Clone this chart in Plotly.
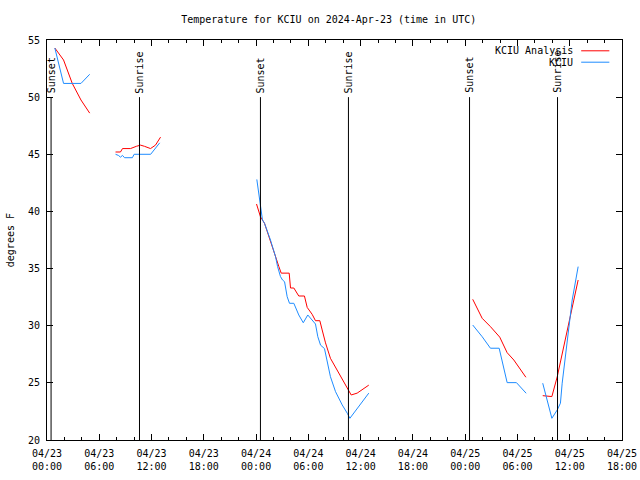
import plotly.graph_objects as go

# KCIU Analysis (red) -- None marks a gap between segments
analysis_times = [
    "2024-04-23 00:54", "2024-04-23 01:54", "2024-04-23 02:54", "2024-04-23 03:54", "2024-04-23 04:54", None,
    "2024-04-23 07:52", "2024-04-23 08:26", "2024-04-23 08:40", "2024-04-23 09:35", "2024-04-23 10:16",
    "2024-04-23 10:44", "2024-04-23 11:11", "2024-04-23 11:53", "2024-04-23 12:27", "2024-04-23 13:02", None,
    "2024-04-24 00:03", "2024-04-24 00:30", "2024-04-24 00:58", "2024-04-24 01:39", "2024-04-24 02:14",
    "2024-04-24 02:37", "2024-04-24 02:53", "2024-04-24 03:48", "2024-04-24 03:57", "2024-04-24 04:20",
    "2024-04-24 04:54", "2024-04-24 05:33", "2024-04-24 05:52", "2024-04-24 06:26", "2024-04-24 06:49",
    "2024-04-24 07:19", "2024-04-24 07:35", "2024-04-24 07:58", "2024-04-24 08:32", "2024-04-24 09:18",
    "2024-04-24 10:04", "2024-04-24 10:38", "2024-04-24 10:55", "2024-04-24 11:36", "2024-04-24 11:59",
    "2024-04-24 12:56", None,
    "2024-04-25 00:52", "2024-04-25 01:57", "2024-04-25 02:54", "2024-04-25 03:58", "2024-04-25 04:49",
    "2024-04-25 05:35", "2024-04-25 06:58", None,
    "2024-04-25 08:54", "2024-04-25 09:57", "2024-04-25 10:34", "2024-04-25 11:08", "2024-04-25 11:42",
    "2024-04-25 12:05", "2024-04-25 12:28", "2024-04-25 12:58",
]
analysis_temps = [
    54.3, 53.25, 51.2, 49.75, 48.6, None,
    45.2, 45.2, 45.5, 45.5, 45.7, 45.8, 45.7, 45.5, 45.8, 46.5, None,
    40.65, 39.54, 38.96, 37.35, 35.9, 35.17, 34.6, 34.6, 33.3, 33.3,
    32.6, 32.6, 31.6, 31.0, 30.44, 30.44, 29.63, 28.5, 27.15, 26.13,
    25.1, 24.23, 23.94, 24.1, 24.29, 24.8, None,
    32.31, 30.65, 29.92, 29.0, 27.64, 27.0, 25.49, None,
    23.88, 23.8, 25.54, 27.59, 29.34, 30.8, 32.25, 34.0,
]

# KCIU observations (blue)
obs_times = [
    "2024-04-23 00:54", "2024-04-23 01:54", "2024-04-23 02:54", "2024-04-23 03:54", "2024-04-23 04:54", None,
    "2024-04-23 07:52", "2024-04-23 08:12", "2024-04-23 08:26", "2024-04-23 08:40", "2024-04-23 08:54",
    "2024-04-23 09:48", "2024-04-23 10:00", "2024-04-23 11:54", "2024-04-23 12:56", None,
    "2024-04-24 00:05", "2024-04-24 00:30", "2024-04-24 00:44", "2024-04-24 00:58", "2024-04-24 01:39",
    "2024-04-24 02:14", "2024-04-24 02:28", "2024-04-24 02:48", "2024-04-24 03:02", "2024-04-24 03:16",
    "2024-04-24 03:34", "2024-04-24 03:50", "2024-04-24 04:20", "2024-04-24 04:54", "2024-04-24 05:05",
    "2024-04-24 05:25", "2024-04-24 05:56", "2024-04-24 06:49", "2024-04-24 07:05", "2024-04-24 07:24",
    "2024-04-24 07:51", "2024-04-24 08:05", "2024-04-24 08:32", "2024-04-24 09:07", "2024-04-24 09:53",
    "2024-04-24 10:28", "2024-04-24 10:46", "2024-04-24 12:56", None,
    "2024-04-25 00:52", "2024-04-25 01:57", "2024-04-25 02:54", "2024-04-25 03:54", "2024-04-25 04:49",
    "2024-04-25 05:53", "2024-04-25 07:00", None,
    "2024-04-25 08:54", "2024-04-25 09:24", "2024-04-25 09:57", "2024-04-25 10:34", "2024-04-25 10:56",
    "2024-04-25 11:08", "2024-04-25 11:31", "2024-04-25 11:54", "2024-04-25 12:17", "2024-04-25 12:58",
]
obs_temps = [
    54.3, 51.2, 51.2, 51.2, 52.0, None,
    45.0, 44.9, 44.75, 44.9, 44.7, 44.7, 45.0, 45.0, 46.0, None,
    42.8, 40.7, 39.25, 38.96, 37.5, 36.04, 35.17, 34.3, 34.0, 33.85,
    32.54, 31.96, 31.96, 30.94, 30.65, 30.26, 30.94, 30.15, 29.04, 28.3,
    28.0, 27.15, 25.54, 24.23, 23.07, 22.34, 21.9, 24.1, None,
    30.06, 29.04, 28.03, 28.03, 25.02, 25.02, 24.09, None,
    24.97, 23.5, 21.9, 22.63, 23.22, 24.97, 27.3, 29.92, 32.25, 35.17,
]

sun_times = ["2024-04-23 00:28", "2024-04-23 10:37", "2024-04-24 00:30",
             "2024-04-24 10:36", "2024-04-25 00:30", "2024-04-25 10:36"]
sun_labels = ["Sunset", "Sunrise", "Sunset", "Sunrise", "Sunset", "Sunrise"]
sun_line_bottom = 20
sun_line_top = 50

x_range = ["2024-04-23 00:00", "2024-04-25 18:00"]
y_range = [20, 55]

FONT = "DejaVu Sans Mono"
RED = "#ff0000"
BLUE = "#1e8cff"

fig = go.Figure()
fig.add_trace(go.Scatter(x=analysis_times, y=analysis_temps, mode="lines",
                         name="KCIU Analysis", line=dict(color=RED, width=1),
                         connectgaps=False))
fig.add_trace(go.Scatter(x=obs_times, y=obs_temps, mode="lines",
                         name="KCIU", line=dict(color=BLUE, width=1),
                         connectgaps=False))

for t, lab in zip(sun_times, sun_labels):
    fig.add_shape(type="line", xref="x", yref="y", x0=t, x1=t,
                  y0=sun_line_bottom, y1=sun_line_top,
                  line=dict(color="black", width=1))
    fig.add_annotation(x=t, y=sun_line_top, xref="x", yref="y", text=lab,
                       textangle=-90, showarrow=False, xanchor="center",
                       yanchor="bottom", yshift=2,
                       font=dict(family=FONT, size=10, color="black"))

# manual gnuplot-style legend (text right, sample line to its right)
legend_entries = [("KCIU Analysis", RED, 0.973), ("KCIU", BLUE, 0.9445)]
for name, col, yy in legend_entries:
    fig.add_annotation(x=0.918, y=yy, xref="paper", yref="paper", text=name,
                       showarrow=False, xanchor="right", yanchor="middle",
                       font=dict(family=FONT, size=10, color="black"))
    fig.add_shape(type="line", xref="paper", yref="paper", x0=0.929, x1=0.978,
                  y0=yy, y1=yy, line=dict(color=col, width=1))

fig.add_annotation(x=-0.064, y=0.5, xref="paper", yref="paper", text="degrees F",
                   textangle=-90, showarrow=False, xanchor="center", yanchor="middle",
                   font=dict(family=FONT, size=10, color="black"))

fig.update_layout(
    width=640, height=480,
    margin=dict(l=47, r=18, t=40, b=40, autoexpand=False),
    paper_bgcolor="white", plot_bgcolor="white",
    showlegend=False,
    font=dict(family=FONT, size=10, color="black"),
    title=dict(text="Temperature for KCIU on 2024-Apr-23 (time in UTC)",
               x=0.49, xref="paper", xanchor="center",
               y=1 - 19 / 480, yref="container", yanchor="middle",
               font=dict(family=FONT, size=10, color="black")),
)
fig.update_xaxes(
    type="date", range=x_range, dtick=6 * 3600 * 1000, tick0="2024-04-23 00:00",
    tickformat="%m/%d<br>%H:%M", ticks="inside", ticklen=6, tickcolor="black",
    showline=True, linecolor="black", linewidth=1, mirror="ticks",
    showgrid=False, zeroline=False, automargin=False,
    minor=dict(dtick=2 * 3600 * 1000, ticks="inside", ticklen=3, tickcolor="black",
               showgrid=False),
    tickfont=dict(family=FONT, size=10, color="black"), ticklabelstandoff=4,
)
fig.update_yaxes(
    range=y_range, dtick=5, ticks="inside", ticklen=6, tickcolor="black",
    showline=True, linecolor="black", linewidth=1, mirror="ticks",
    showgrid=False, zeroline=False, automargin=False,
    tickfont=dict(family=FONT, size=10, color="black"), ticklabelstandoff=4,
)

fig.write_html("out.html", config={"displayModeBar": False},
               post_script="document.body.style.margin='0';document.body.style.padding='0';")
